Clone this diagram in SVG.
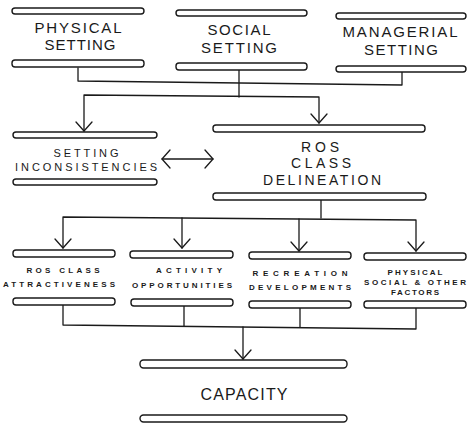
<svg xmlns="http://www.w3.org/2000/svg" width="476" height="426" viewBox="0 0 476 426">
<style>
.bar{fill:#fff;stroke:#1a1a1a;stroke-width:1.4}
.ln{fill:none;stroke:#1a1a1a;stroke-width:1.3;stroke-linecap:round;stroke-linejoin:round}
.big{font-family:"Liberation Sans",Arial,sans-serif;font-size:15px;fill:#1a1a1a;text-anchor:middle}
.mid{font-family:"Liberation Sans",Arial,sans-serif;font-size:14px;fill:#1a1a1a;text-anchor:middle}
.sm{font-family:"Liberation Sans",Arial,sans-serif;font-size:11px;fill:#1a1a1a;text-anchor:middle}
.xs{font-family:"Liberation Sans",Arial,sans-serif;font-size:8px;font-weight:bold;fill:#1a1a1a;text-anchor:middle}
.cap{font-family:"Liberation Sans",Arial,sans-serif;font-size:16px;fill:#1a1a1a;text-anchor:middle}
</style>
<rect width="476" height="426" fill="#fff"/>
<g id="connectors">
  <polyline class="ln" points="78,68 78,81 402,85 402,72"/>
  <polyline class="ln" points="239,70 239,97"/>
  <polyline class="ln" points="84,131 84,95 319,97 319,123"/>
  <polyline class="ln" points="76,122 84,131 92,122"/>
  <polyline class="ln" points="311,114 319,123 327,114"/>
  <line class="ln" x1="162" y1="159" x2="213" y2="159"/>
  <polyline class="ln" points="170,150 162,159 170,168"/>
  <polyline class="ln" points="205,150 213,159 205,168"/>
  <polyline class="ln" points="321,200 321,218"/>
  <polyline class="ln" points="63,248 63,217 416,220 416,251"/>
  <polyline class="ln" points="182,218 182,248"/>
  <polyline class="ln" points="299,219 299,251"/>
  <polyline class="ln" points="55,239 63,248 71,239"/>
  <polyline class="ln" points="174,239 182,248 190,239"/>
  <polyline class="ln" points="291,242 299,251 307,242"/>
  <polyline class="ln" points="408,242 416,251 424,242"/>
  <polyline class="ln" points="63,305 63,325 416,329 416,308"/>
  <polyline class="ln" points="184,306 184,326"/>
  <polyline class="ln" points="300,308 300,327"/>
  <polyline class="ln" points="243,327 243,359"/>
  <polyline class="ln" points="235,350 243,359 251,350"/>
</g>
<g id="physical-setting">
  <rect class="bar" x="12" y="8" width="132" height="6" rx="3"/>
  <text class="big" x="78" y="33" textLength="87" lengthAdjust="spacing">PHYSICAL</text>
  <text class="big" x="80" y="50" textLength="71" lengthAdjust="spacing">SETTING</text>
  <rect class="bar" x="12" y="60" width="132" height="7" rx="3"/>
</g>
<g id="social-setting">
  <rect class="bar" x="176" y="10" width="131" height="6" rx="3"/>
  <text class="big" x="239" y="35" textLength="63" lengthAdjust="spacing">SOCIAL</text>
  <text class="big" x="239" y="53" textLength="76" lengthAdjust="spacing">SETTING</text>
  <rect class="bar" x="176" y="63" width="131" height="7" rx="3"/>
</g>
<g id="managerial-setting">
  <rect class="bar" x="336" y="13" width="130" height="6" rx="3"/>
  <text class="big" x="400" y="37" textLength="115" lengthAdjust="spacing">MANAGERIAL</text>
  <text class="big" x="401" y="55" textLength="74" lengthAdjust="spacing">SETTING</text>
  <rect class="bar" x="336" y="66" width="130" height="6" rx="3"/>
</g>
<g id="setting-inconsistencies">
  <rect class="bar" x="13" y="132" width="144" height="6" rx="3"/>
  <text class="sm" x="86" y="157" textLength="65" lengthAdjust="spacing">SETTING</text>
  <text class="sm" x="86" y="171" textLength="142" lengthAdjust="spacing">INCONSISTENCIES</text>
  <rect class="bar" x="13" y="179" width="144" height="6" rx="3"/>
</g>
<g id="ros-class-delineation">
  <rect class="bar" x="213" y="125" width="212" height="7" rx="3"/>
  <text class="mid" x="320" y="152" textLength="38" lengthAdjust="spacing">ROS</text>
  <text class="mid" x="321" y="168" textLength="60" lengthAdjust="spacing">CLASS</text>
  <text class="mid" x="322" y="185" textLength="118" lengthAdjust="spacing">DELINEATION</text>
  <rect class="bar" x="213" y="193" width="213" height="7" rx="3"/>
</g>
<g id="ros-class-attractiveness">
  <rect class="bar" x="13" y="250" width="102" height="7" rx="3"/>
  <text class="xs" x="63" y="273" textLength="73" lengthAdjust="spacing">ROS CLASS</text>
  <text class="xs" x="59" y="287" textLength="112" lengthAdjust="spacing">ATTRACTIVENESS</text>
  <rect class="bar" x="13" y="298" width="102" height="7" rx="3"/>
</g>
<g id="activity-opportunities">
  <rect class="bar" x="130" y="251" width="103" height="7" rx="3"/>
  <text class="xs" x="189" y="273" textLength="66" lengthAdjust="spacing">ACTIVITY</text>
  <text class="xs" x="182" y="288" textLength="100" lengthAdjust="spacing">OPPORTUNITIES</text>
  <rect class="bar" x="131" y="299" width="102" height="7" rx="3"/>
</g>
<g id="recreation-developments">
  <rect class="bar" x="249" y="252" width="102" height="7" rx="3"/>
  <text class="xs" x="300" y="276" textLength="95" lengthAdjust="spacing">RECREATION</text>
  <text class="xs" x="300" y="290" textLength="102" lengthAdjust="spacing">DEVELOPMENTS</text>
  <rect class="bar" x="249" y="301" width="102" height="7" rx="3"/>
</g>
<g id="physical-social-other-factors">
  <rect class="bar" x="364" y="253" width="102" height="7" rx="3"/>
  <text class="xs" x="415" y="275" textLength="55" lengthAdjust="spacing">PHYSICAL</text>
  <text class="xs" x="415" y="285" textLength="102" lengthAdjust="spacing">SOCIAL &amp; OTHER</text>
  <text class="xs" x="415" y="295" textLength="48" lengthAdjust="spacing">FACTORS</text>
  <rect class="bar" x="364" y="301" width="102" height="7" rx="3"/>
</g>
<g id="capacity">
  <rect class="bar" x="140" y="360" width="207" height="8" rx="3.5"/>
  <text class="cap" x="244" y="400" textLength="87" lengthAdjust="spacing">CAPACITY</text>
  <rect class="bar" x="140" y="415" width="207" height="7" rx="3.5"/>
</g>
</svg>
